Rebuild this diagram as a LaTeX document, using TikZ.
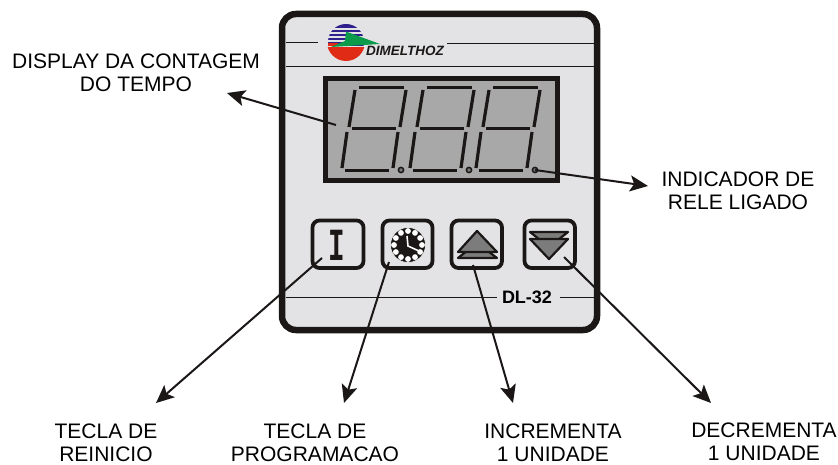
\documentclass[tikz,border=0pt]{standalone}
\usepackage{fontspec}
\setmainfont{Liberation Sans}
\newfontfamily\monofont{Liberation Mono}
\usetikzlibrary{arrows.meta}
\definecolor{panelgray}{HTML}{E3E3E5}
\definecolor{lcdgray}{HTML}{A8A8A8}
\definecolor{inkblack}{HTML}{1A1716}
\definecolor{keygray}{HTML}{7C7C7C}
\definecolor{logoblue}{HTML}{2F1F8C}
\definecolor{logored}{HTML}{E02B17}
\definecolor{logogreen}{HTML}{0B9B4A}
\tikzset{
  label/.style={font=\fontsize{21}{23}\selectfont, align=center, inner sep=0pt, text=black},
  callout/.style={draw=inkblack, line width=2pt, -{Stealth[length=18pt,width=16pt,inset=4pt]}},
  keybox/.style={draw=inkblack, line width=3.8pt, rounded corners=7pt},
  segment/.style={draw=inkblack, line width=3.2pt},
  rule/.style={draw=inkblack, line width=1pt},
  keyarrow/.style={fill=keygray, draw=inkblack, line width=2.2pt, line join=round}
}
\begin{document}
\begin{tikzpicture}[x=1pt, y=-1pt]
\useasboundingbox (0,0) rectangle (838,465);
\draw[draw=inkblack, fill=panelgray, line width=6.5pt, rounded corners=14pt] (282,14) rectangle (597,330);
\draw[rule] (286,43) -- (318,43);
\draw[rule] (447,44) -- (596,44);
\draw[rule] (286,67) -- (596,67);
\draw[rule] (286,297) -- (497,297);
\draw[rule] (560,297) -- (596,297);
\node[font=\bfseries\fontsize{18}{20}\selectfont, inner sep=0pt] (model) at (527,297) {DL-32};
% logo
\fill[logoblue] (346,42) circle (18);
\foreach \y in {29,33,37,41}
  \draw[panelgray, line width=1.3pt] (326,\y) -- (366,\y);
\fill[panelgray] (327,46) rectangle (366,48);
\begin{scope}
\clip (327,47.5) rectangle (366,62);
\fill[logored] (346,42) circle (19);
\end{scope}
\fill[logored] (328,43) rectangle (338,46);
\fill[logogreen] (346,31.5) -- (380,44) -- (331,47) -- (345,41) -- cycle;
\node[font=\bfseries\itshape\fontsize{13.5}{15}\selectfont, inner sep=0pt, text=inkblack] (brand) at (405,50.5) {DIMELTHOZ};
% display
\draw[draw=inkblack, fill=lcdgray, line width=5pt] (325.5,78.5) rectangle (557.5,180.5);
\foreach \dx in {0,68,134} {
  \draw[segment] (359+\dx,87.5) -- (404+\dx,87.5);
  \draw[segment] (355+\dx,90) -- (349+\dx,127);
  \draw[segment] (406+\dx,90) -- (400+\dx,127);
  \draw[segment] (352+\dx,128.5) -- (396+\dx,128.5);
  \draw[segment] (347+\dx,132) -- (342+\dx,168);
  \draw[segment] (398+\dx,132) -- (393+\dx,168);
  \draw[segment] (345+\dx,170.5) -- (389+\dx,170.5);
  \draw[draw=inkblack, fill=keygray, line width=1.5pt] (401+\dx,170) circle (2.6);
}
% keys
\draw[keybox] (312.5,220.5) rectangle (363.5,268);
\draw[keybox] (382.5,220.5) rectangle (432.5,268);
\draw[keybox] (451.5,220.5) rectangle (502,268);
\draw[keybox] (524.5,220.5) rectangle (575,268);
\node[font=\monofont\bfseries\fontsize{46}{46}\selectfont, inner sep=0pt, xscale=0.6, text=inkblack] (keyI) at (337,245) {I};
\fill[inkblack] (408,245) circle (17.5);
\draw[white, line width=0.5pt] (408,245) circle (17.5);
\foreach \a in {0,30,...,330}
  \fill[white] (408,245) ++(\a:14) circle (2.9);
\draw[white, line width=1.6pt] (407,236) -- (408,246) -- (419,251);
\draw[keyarrow] (477,243) -- (458,258) -- (497,258) -- cycle;
\draw[keyarrow] (477,231) -- (458,252) -- (497,252) -- cycle;
\draw[keyarrow] (530,232) -- (568,232) -- (549,247) -- cycle;
\draw[keyarrow] (530,239) -- (568,239) -- (549,259) -- cycle;
% labels
\node[label] (display) at (136,73) {DISPLAY DA CONTAGEM\\DO TEMPO};
\node[label] (rele) at (738,191) {INDICADOR DE\\RELE LIGADO};
\node[label] (reinicio) at (106,443) {TECLA DE\\REINICIO};
\node[label] (programa) at (315,443) {TECLA DE\\PROGRAMACAO};
\node[label] (incrementa) at (553,443) {INCREMENTA\\1 UNIDADE};
\node[label] (decrementa) at (764,442) {DECREMENTA\\1 UNIDADE};
% callouts
\coordinate (lcdA) at (336,125);
\coordinate (tipA) at (227,93);
\coordinate (ledB) at (535,170);
\coordinate (tipB) at (648,186);
\coordinate (keyC) at (322,258);
\coordinate (tipC) at (156,403);
\coordinate (keyD) at (389,262);
\coordinate (tipD) at (344,403);
\coordinate (keyE) at (473,265);
\coordinate (tipE) at (513,403);
\coordinate (keyF) at (564,257);
\coordinate (tipF) at (711,403);
\draw[callout] (lcdA) -- (tipA);
\draw[callout] (ledB) -- (tipB);
\draw[callout] (keyC) -- (tipC);
\draw[callout] (keyD) -- (tipD);
\draw[callout] (keyE) -- (tipE);
\draw[callout] (keyF) -- (tipF);
\end{tikzpicture}
\end{document}
